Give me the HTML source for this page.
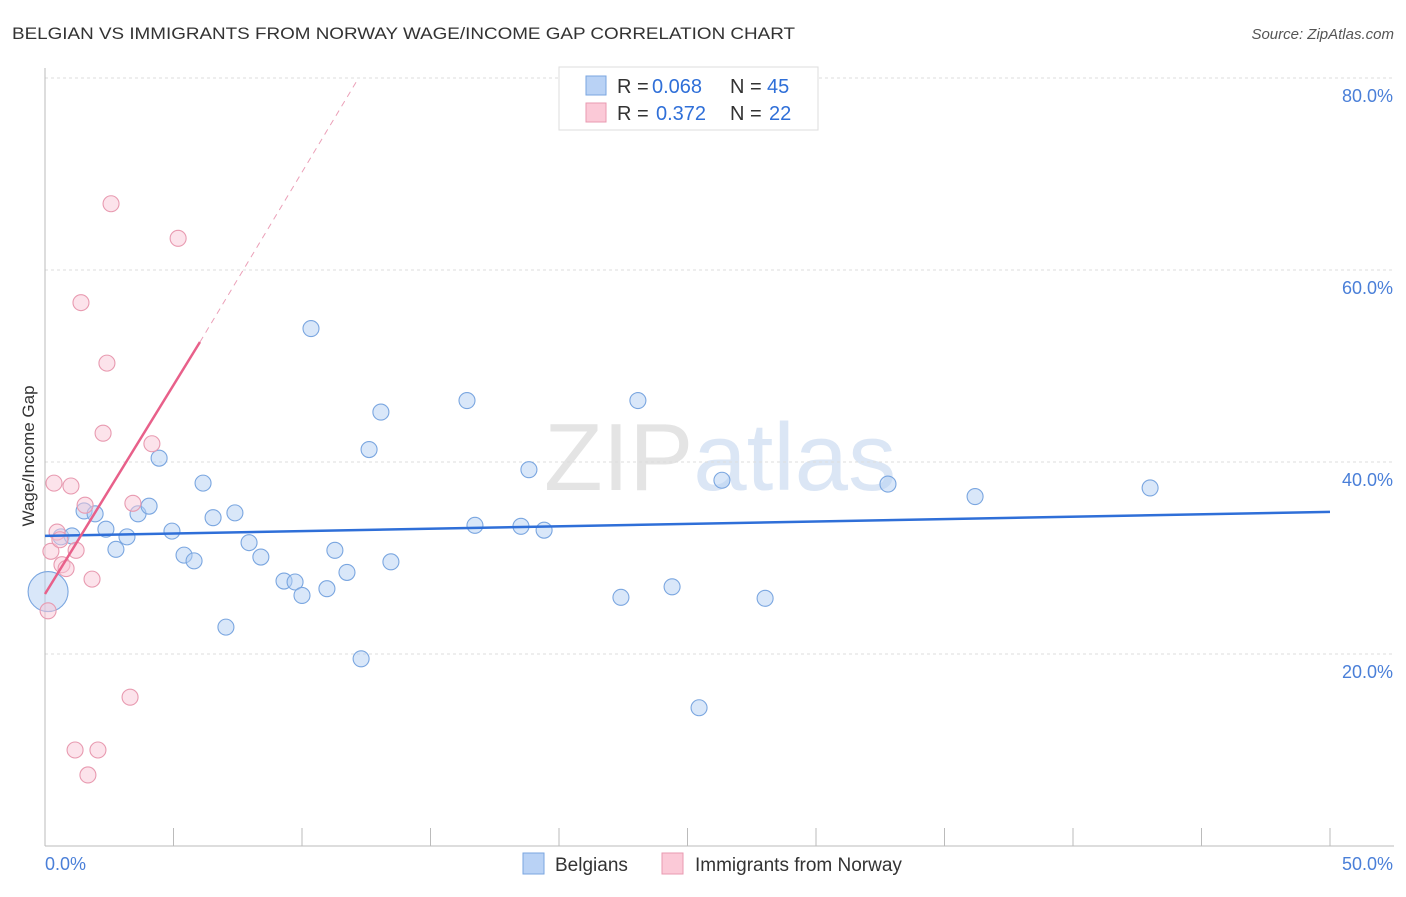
<!DOCTYPE html>
<html><head><meta charset="utf-8"><style>
body{margin:0;background:#fff;font-family:"Liberation Sans",sans-serif;}
svg text{font-family:"Liberation Sans",sans-serif;}
</style></head><body>
<svg id="chart" width="1406" height="892" xmlns="http://www.w3.org/2000/svg">
<text x="12" y="39" font-size="17" fill="#333" textLength="783" lengthAdjust="spacingAndGlyphs">BELGIAN VS IMMIGRANTS FROM NORWAY WAGE/INCOME GAP CORRELATION CHART</text>
<text x="1394" y="39" font-size="15" fill="#555" text-anchor="end" font-style="italic">Source: ZipAtlas.com</text>
<text x="720" y="490" font-size="96" fill="#e4e4e4" text-anchor="middle" font-family="Liberation Serif">ZIP<tspan fill="#dbe6f5" font-family="Liberation Sans">atlas</tspan></text>
<g id="grid"></g>
<g id="axes"></g>
<g id="marks"></g>
<text transform="translate(34,456) rotate(-90)" font-size="17" fill="#333" text-anchor="middle">Wage/Income Gap</text>
<g font-size="20">
<rect x="559" y="67" width="259" height="63" fill="#fff" stroke="#ddd"/>
<rect x="586" y="76" width="20" height="19" fill="#b9d2f5" stroke="#7aa6e0"/>
<rect x="586" y="103" width="20" height="19" fill="#fbc9d7" stroke="#e89ab0"/>
<text x="617" y="93" fill="#333">R =</text>
<text x="652" y="93" fill="#2f6fd8">0.068</text>
<text x="730" y="93" fill="#333">N =</text>
<text x="767" y="93" fill="#2f6fd8">45</text>
<text x="617" y="120" fill="#333">R =</text>
<text x="656" y="120" fill="#2f6fd8">0.372</text>
<text x="730" y="120" fill="#333">N =</text>
<text x="769" y="120" fill="#2f6fd8">22</text>
</g>
<g>
<rect x="523" y="853" width="21" height="21" fill="#b9d2f5" stroke="#7aa6e0"/>
<text x="555" y="871" font-size="19" fill="#333">Belgians</text>
<rect x="662" y="853" width="21" height="21" fill="#fbc9d7" stroke="#e89ab0"/>
<text x="695" y="871" font-size="19" fill="#333">Immigrants from Norway</text>
</g>
</svg>
<script>
const blueX=[0.12,0.62,1.05,1.52,1.95,2.37,2.76,3.19,3.62,4.05,4.44,4.94,5.41,5.80,6.15,6.54,7.04,7.39,7.94,8.40,9.30,9.73,10.0,10.35,10.97,11.28,11.75,12.30,12.61,13.07,13.46,16.42,16.73,18.52,18.83,19.42,22.41,23.07,24.40,25.45,26.34,28.02,32.80,36.19,43.0];
const blueY=[26.5,32.2,32.3,34.9,34.6,33.0,30.9,32.2,34.6,35.4,40.4,32.8,30.3,29.7,37.8,34.2,22.8,34.7,31.6,30.1,27.6,27.5,26.1,53.9,26.8,30.8,28.5,19.5,41.3,45.2,29.6,46.4,33.4,33.3,39.2,32.9,25.9,46.4,27.0,14.4,38.1,25.8,37.7,36.4,37.3];
const pinkX=[0.12,0.23,0.35,0.47,0.66,0.82,1.01,1.21,1.17,1.40,1.56,1.67,1.83,2.06,2.26,2.41,2.57,3.31,3.42,4.16,5.18,0.58];
const pinkY=[24.5,30.7,37.8,32.7,29.3,28.9,37.5,30.8,10.0,56.6,35.5,7.4,27.8,10.0,43.0,50.3,66.9,15.5,35.7,41.9,63.3,31.9];
const yTicks=[20,40,60,80];
const yTickLabels=["20.0%","40.0%","60.0%","80.0%"];
const xTicks=[0,5,10,15,20,25,30,35,40,45,50];
const blueTrend=[[0,32.3],[50,34.8]];
const pinkTrend=[[0,26.25],[6.03,52.5]];
const pinkDash=[[6.03,52.5],[12.18,79.9]];
const NS="http://www.w3.org/2000/svg";
const sx=v=>45+v*25.7, sy=v=>846-v*9.6;
function mk(parent,tag,attrs){const e=document.createElementNS(NS,tag);for(const k in attrs)e.setAttribute(k,attrs[k]);document.getElementById(parent).appendChild(e);return e;}
yTicks.forEach((t,i)=>{
 const l=mk('grid','line',{x1:45,x2:1394,y1:sy(t),y2:sy(t),stroke:'#ddd','stroke-dasharray':'3,3'});
 
 
 const tx=mk('axes','text',{x:1393,y:sy(t)+24,'font-size':18,fill:'#4a7fd8','text-anchor':'end'});
 tx.textContent=yTickLabels[i];
 
 
});
let a=mk('axes','line',{x1:45,x2:45,y1:68,y2:846,stroke:'#bbb'});


a=mk('axes','line',{x1:45,x2:1394,y1:846,y2:846,stroke:'#bbb'});


xTicks.forEach(t=>{const l=mk('axes','line',{x1:sx(t),x2:sx(t),y1:828,y2:846,stroke:'#bbb'});
 
 });
let t0=mk('axes','text',{x:45,y:870,'font-size':18,fill:'#4a7fd8'});t0.textContent='0.0%';


let t1=mk('axes','text',{x:1393,y:870,'font-size':18,fill:'#4a7fd8','text-anchor':'end'});t1.textContent='50.0%';


blueX.forEach((x,i)=>{const c=mk('marks','circle',{cx:sx(x),cy:sy(blueY[i]),r:i===0?20:8,fill:'rgba(180,207,244,0.5)',stroke:'#7aa6e0','stroke-width':1.1});
 
 });
pinkX.forEach((x,i)=>{const c=mk('marks','circle',{cx:sx(x),cy:sy(pinkY[i]),r:8,fill:'rgba(250,200,215,0.5)',stroke:'#e89ab0','stroke-width':1.1});
 
 });
let ln=mk('marks','line',{x1:sx(blueTrend[0][0]),y1:sy(blueTrend[0][1]),x2:sx(blueTrend[1][0]),y2:sy(blueTrend[1][1]),stroke:'#2f6fd8','stroke-width':2.5});


ln=mk('marks','line',{x1:sx(pinkTrend[0][0]),y1:sy(pinkTrend[0][1]),x2:sx(pinkTrend[1][0]),y2:sy(pinkTrend[1][1]),stroke:'#e8608a','stroke-width':2.5});


ln=mk('marks','line',{x1:sx(pinkDash[0][0]),y1:sy(pinkDash[0][1]),x2:sx(pinkDash[1][0]),y2:sy(pinkDash[1][1]),stroke:'#eba0b8','stroke-width':1,'stroke-dasharray':'6,5'});


</script>
</body></html>
